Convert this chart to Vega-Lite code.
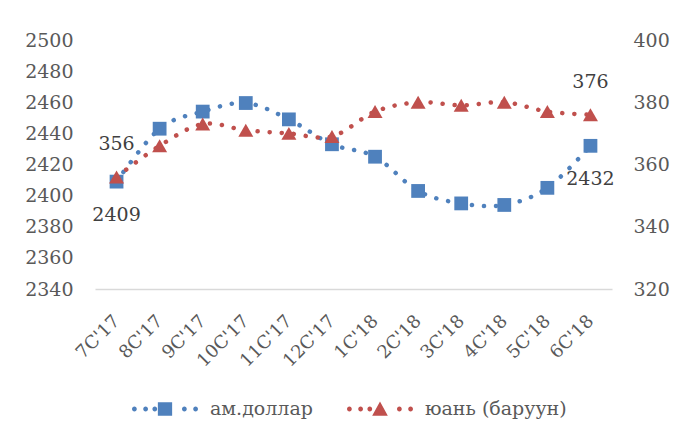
{
  "$schema": "https://vega.github.io/schema/vega-lite/v6.json",
  "width": 517,
  "height": 249,
  "autosize": "none",
  "padding": {"left": 95, "top": 40, "right": 63, "bottom": 150},
  "background": "white",
  "config": {
    "view": {"stroke": null},
    "axis": {"labelFont": "DejaVu Serif", "labelColor": "#595959", "labelFontSize": 19, "grid": false, "ticks": false, "title": null, "labelOverlap": false},
    "legend": {"labelFont": "DejaVu Serif", "labelColor": "#595959", "labelFontSize": 19}
  },
  "data": {
    "values": [
      {"month": "7С'17", "usd": 2409, "cny": 356},
      {"month": "8С'17", "usd": 2443, "cny": 366},
      {"month": "9С'17", "usd": 2454, "cny": 373},
      {"month": "10С'17", "usd": 2459.5, "cny": 371},
      {"month": "11С'17", "usd": 2449, "cny": 370},
      {"month": "12С'17", "usd": 2433, "cny": 369},
      {"month": "1С'18", "usd": 2425, "cny": 377},
      {"month": "2С'18", "usd": 2403, "cny": 380},
      {"month": "3С'18", "usd": 2395, "cny": 379},
      {"month": "4С'18", "usd": 2394, "cny": 380},
      {"month": "5С'18", "usd": 2405, "cny": 377},
      {"month": "6С'18", "usd": 2432, "cny": 376}
    ]
  },
  "encoding": {
    "x": {
      "field": "month", "type": "ordinal", "sort": null,
      "scale": {"type": "point", "padding": 0.5},
      "axis": {"labelAngle": -45, "labelAlign": "right", "labelBaseline": "middle", "labelPadding": 29, "labelFontSize": 18, "domain": true, "domainColor": "#d9d9d9", "domainWidth": 1.5}
    }
  },
  "layer": [
    {
      "encoding": {
        "y": {"field": "usd", "type": "quantitative", "scale": {"domain": [2340, 2500], "nice": false, "zero": false},
              "axis": {"orient": "left", "values": [2340, 2360, 2380, 2400, 2420, 2440, 2460, 2480, 2500], "format": "d", "domain": false, "labelPadding": 22, "labelOverlap": false}}
      },
      "layer": [
        {
          "mark": {"type": "line", "interpolate": "cardinal", "strokeWidth": 4.5, "strokeDash": [0.1, 12], "strokeCap": "round"},
          "encoding": {
            "color": {"datum": "ам.доллар", "type": "nominal",
                      "scale": {"domain": ["ам.доллар", "юань (баруун)"], "range": ["#4F81BD", "#C0504D"]},
                      "legend": {
                        "title": null, "orient": "none", "direction": "horizontal", "legendX": 36, "legendY": 335,
                        "padding": 0, "symbolSize": 4624, "labelOffset": 11, "columnPadding": 33, "symbolStrokeWidth": 0,
                        "encode": {"symbols": {"update": {
                          "fill": {"signal": "datum.value === 'ам.доллар' ? '#4F81BD' : '#C0504D'"},
                          "stroke": {"value": "transparent"},
                          "opacity": {"value": 1},
                          "shape": {"signal": "datum.value === 'ам.доллар' ? 'M-0.97,0a0.07,0.07 0 1,0 0.14,0a0.07,0.07 0 1,0 -0.14,0ZM-0.64,0a0.07,0.07 0 1,0 0.14,0a0.07,0.07 0 1,0 -0.14,0ZM-0.37,0a0.07,0.07 0 1,0 0.14,0a0.07,0.07 0 1,0 -0.14,0ZM0.50,0a0.07,0.07 0 1,0 0.14,0a0.07,0.07 0 1,0 -0.14,0ZM0.83,0a0.07,0.07 0 1,0 0.14,0a0.07,0.07 0 1,0 -0.14,0ZM-0.21,-0.2L0.21,-0.2L0.21,0.2L-0.21,0.2Z' : 'M-0.97,0a0.07,0.07 0 1,0 0.14,0a0.07,0.07 0 1,0 -0.14,0ZM-0.64,0a0.07,0.07 0 1,0 0.14,0a0.07,0.07 0 1,0 -0.14,0ZM-0.37,0a0.07,0.07 0 1,0 0.14,0a0.07,0.07 0 1,0 -0.14,0ZM0.50,0a0.07,0.07 0 1,0 0.14,0a0.07,0.07 0 1,0 -0.14,0ZM0.83,0a0.07,0.07 0 1,0 0.14,0a0.07,0.07 0 1,0 -0.14,0ZM0,-0.22L0.23,0.2L-0.23,0.2Z'"}
                        }}}
                      }}
          }
        },
        {
          "mark": {"type": "point", "shape": "square", "filled": true, "size": 190, "opacity": 1, "color": "#4F81BD"}
        },
        {
          "transform": [{"filter": {"field": "month", "oneOf": ["7С'17", "6С'18"]}}],
          "mark": {"type": "text", "dy": 33, "fontSize": 19, "color": "#404040", "font": "DejaVu Serif"},
          "encoding": {"text": {"field": "usd", "type": "quantitative", "format": "d"}}
        }
      ]
    },
    {
      "encoding": {
        "y": {"field": "cny", "type": "quantitative", "scale": {"domain": [320, 400], "nice": false, "zero": false},
              "axis": {"orient": "right", "values": [320, 340, 360, 380, 400], "format": "d", "domain": false, "labelPadding": 21}}
      },
      "layer": [
        {
          "mark": {"type": "line", "interpolate": "cardinal", "strokeWidth": 4.5, "strokeDash": [0.1, 12], "strokeCap": "round"},
          "encoding": {"color": {"datum": "юань (баруун)", "type": "nominal"}}
        },
        {
          "mark": {"type": "point", "shape": "triangle-up", "filled": true, "size": 225, "opacity": 1, "color": "#C0504D"}
        },
        {
          "transform": [{"filter": {"field": "month", "oneOf": ["7С'17", "6С'18"]}}],
          "mark": {"type": "text", "dy": -33, "fontSize": 19, "color": "#404040", "font": "DejaVu Serif"},
          "encoding": {"text": {"field": "cny", "type": "quantitative", "format": "d"}}
        }
      ]
    }
  ],
  "resolve": {"scale": {"y": "independent"}}
}
